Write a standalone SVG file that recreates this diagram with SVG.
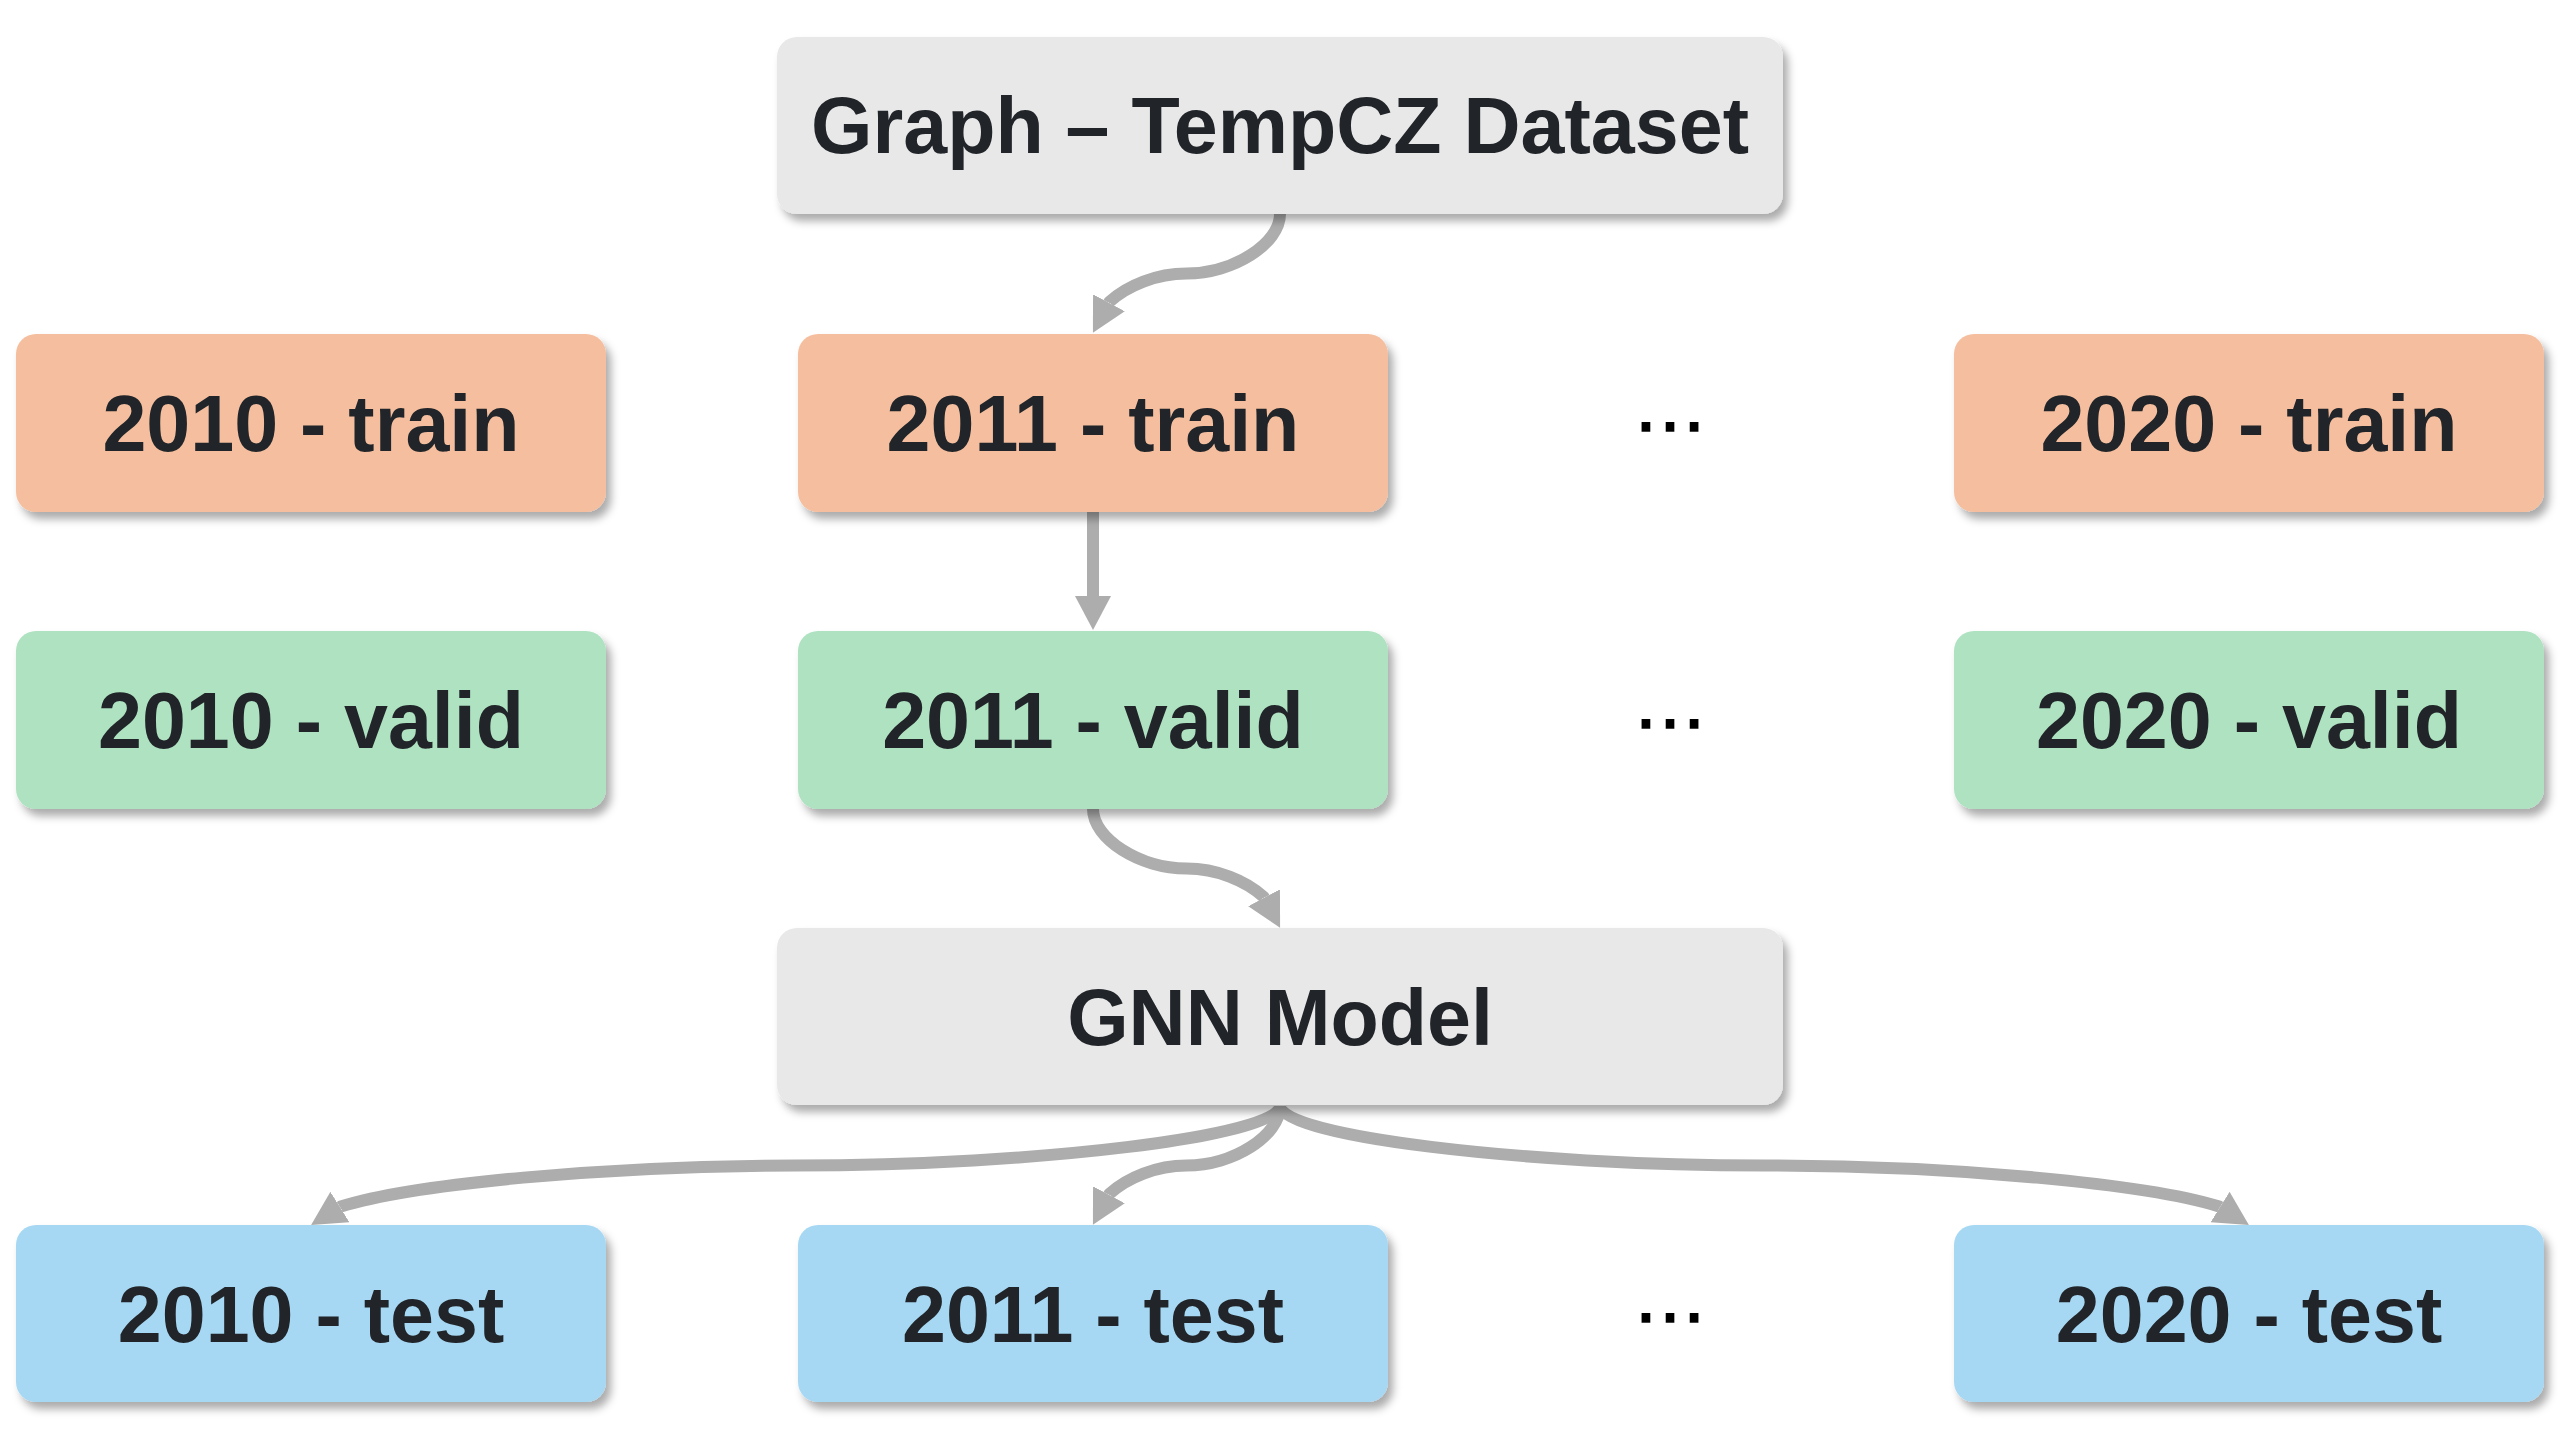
<svg xmlns="http://www.w3.org/2000/svg" width="2558" height="1438" viewBox="0 0 2558 1438">
  <style>
    .box { filter: url(#shadow); }
    .gray { fill: #E8E8E8; }
    .train { fill: #F5BF9F; }
    .valid { fill: #AEE2C1; }
    .test { fill: #A7D8F3; }
    .label { font-family: "Liberation Sans", Arial, sans-serif; font-weight: bold; font-size: 79px; fill: #212529; text-anchor: middle; }
    .dots { font-family: "Liberation Sans", Arial, sans-serif; font-size: 76px; fill: #000000; stroke: #000000; stroke-width: 1.5; text-anchor: middle; }
    .conn { fill: none; stroke: #ADADAD; stroke-width: 12; stroke-linecap: butt; stroke-linejoin: round; marker-end: url(#arrow); }
  </style>
  <defs>
    <filter id="shadow" x="-10%" y="-20%" width="125%" height="150%">
      <feDropShadow dx="5" dy="7" stdDeviation="4" flood-color="#000000" flood-opacity="0.33"/>
    </filter>
    <marker id="arrow" markerUnits="userSpaceOnUse" viewBox="0 0 34 36" refX="0" refY="18" markerWidth="34" markerHeight="36" orient="auto">
      <path d="M0,0 L34,18 L0,36 Z" fill="#ADADAD"/>
    </marker>
  </defs>
  <rect width="2558" height="1438" fill="#FFFFFF"/>

  <g id="connectors">
    <path id="c-dataset-2011train" class="conn" d="M1280,214 C1280,243.75 1233.25,273.5 1186.5,273.5 C1156.8,273.5 1127.1,285.5 1109.4,301.9 l-0.47,0.88"/>
    <path id="c-2011train-2011valid" class="conn" d="M1093,512 L1093,596"/>
    <path id="c-2011valid-gnn" class="conn" d="M1093,809 C1093,838.75 1139.75,868.5 1186.5,868.5 C1216.2,868.5 1245.9,880.5 1263.6,896.9 l0.47,0.88"/>
    <path id="c-gnn-2011test" class="conn" d="M1280,1106 C1280,1135.75 1233.25,1165.5 1186.5,1165.5 C1156.8,1165.5 1127.1,1177.5 1109.4,1193.9 l-0.47,0.88"/>
    <path id="c-gnn-2010test" class="conn" d="M1280,1106 C1280,1135.75 1037.75,1165.5 795.5,1165.5 C604.1,1165.5 412.7,1184.1 340.8,1206.5 l-0.85,0.53"/>
    <path id="c-gnn-2020test" class="conn" d="M1280,1106 C1280,1135.75 1522.25,1165.5 1764.5,1165.5 C1955.9,1165.5 2147.3,1184.1 2219.2,1206.5 l0.85,0.53"/>
  </g>

  <g id="node-dataset">
    <rect class="box gray" x="777" y="37" width="1006" height="177" rx="20"/>
    <text class="label" x="1280" y="153">Graph – TempCZ Dataset</text>
  </g>

  <g id="node-2010-train">
    <rect class="box train" x="16" y="334" width="590" height="178" rx="20"/>
    <text class="label" x="311" y="451">2010 - train</text>
  </g>
  <g id="node-2011-train">
    <rect class="box train" x="798" y="334" width="590" height="178" rx="20"/>
    <text class="label" x="1093" y="451">2011 - train</text>
  </g>
  <g id="node-2020-train">
    <rect class="box train" x="1954" y="334" width="590" height="178" rx="20"/>
    <text class="label" x="2249" y="451">2020 - train</text>
  </g>

  <g id="node-2010-valid">
    <rect class="box valid" x="16" y="631" width="590" height="178" rx="20"/>
    <text class="label" x="311" y="748">2010 - valid</text>
  </g>
  <g id="node-2011-valid">
    <rect class="box valid" x="798" y="631" width="590" height="178" rx="20"/>
    <text class="label" x="1093" y="748">2011 - valid</text>
  </g>
  <g id="node-2020-valid">
    <rect class="box valid" x="1954" y="631" width="590" height="178" rx="20"/>
    <text class="label" x="2249" y="748">2020 - valid</text>
  </g>

  <g id="node-gnn">
    <rect class="box gray" x="777" y="928" width="1006" height="177" rx="20"/>
    <text class="label" x="1280" y="1045">GNN Model</text>
  </g>

  <g id="node-2010-test">
    <rect class="box test" x="16" y="1225" width="590" height="177" rx="20"/>
    <text class="label" x="311" y="1342">2010 - test</text>
  </g>
  <g id="node-2011-test">
    <rect class="box test" x="798" y="1225" width="590" height="177" rx="20"/>
    <text class="label" x="1093" y="1342">2011 - test</text>
  </g>
  <g id="node-2020-test">
    <rect class="box test" x="1954" y="1225" width="590" height="177" rx="20"/>
    <text class="label" x="2249" y="1342">2020 - test</text>
  </g>

  <g id="ellipses">
    <text class="dots" x="1670" y="431">…</text>
    <text class="dots" x="1670" y="728">…</text>
    <text class="dots" x="1670" y="1322">…</text>
  </g>
</svg>
